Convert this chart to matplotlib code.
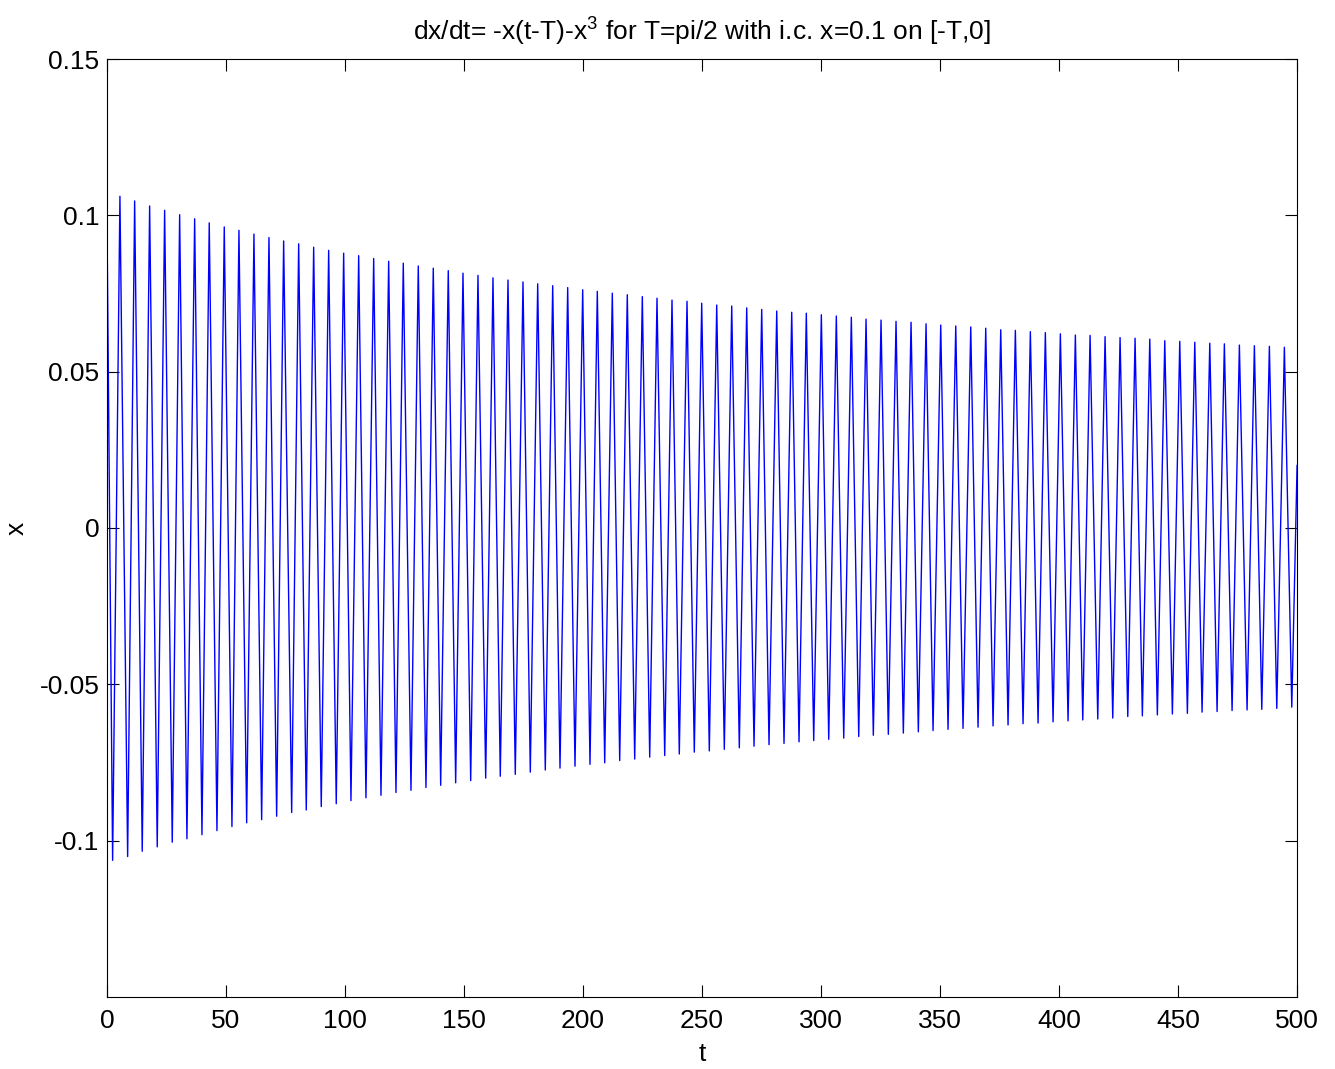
import numpy as np
import matplotlib
matplotlib.use("Agg")
import matplotlib.pyplot as plt

plt.rcParams['font.family'] = ['Liberation Sans', 'DejaVu Sans']
plt.rcParams['mathtext.default'] = 'regular'

# start / end of the trajectory
t_start, x_start = 0.0, 0.1
t_end, x_end = 500.0, 0.02

# local maxima
max_t = [5.46, 11.64, 17.94, 24.24, 30.55, 36.85, 42.98, 49.29, 55.46, 61.76,
         68.07, 74.24, 80.55, 86.85, 93.15, 99.45, 105.76, 112.06, 118.36,
         124.50, 130.80, 137.10, 143.40, 149.58, 155.88, 162.18, 168.49, 174.79,
         180.97, 187.27, 193.57, 199.87, 206.01, 212.31, 218.61, 224.92, 231.09,
         237.39, 243.70,
         249.87, 256.18, 262.48, 268.78, 275.08, 281.39, 287.69, 293.82, 300.13,
         306.43, 312.73, 318.91, 325.21, 331.51, 337.82, 344.12, 350.29, 356.60,
         362.90, 369.20,
         375.50, 381.64, 387.94, 394.24, 400.55, 406.85, 413.03, 419.33, 425.63,
         431.93, 438.11, 444.41, 450.71, 457.02, 463.32, 469.45, 475.76, 482.06,
         488.36, 494.66]
max_x = [0.1061, 0.1046, 0.1030, 0.1016, 0.1002, 0.0989, 0.0976, 0.0963, 0.0952,
         0.0940, 0.0929, 0.0918, 0.0909, 0.0898, 0.0888, 0.0879, 0.0871, 0.0862,
         0.0853,
         0.0847, 0.0838, 0.0831, 0.0823, 0.0815, 0.0808, 0.0800, 0.0793, 0.0787,
         0.0781, 0.0775, 0.0769, 0.0762, 0.0757, 0.0751, 0.0746, 0.0740, 0.0735,
         0.0729, 0.0725,
         0.0719, 0.0713, 0.0710, 0.0704, 0.0699, 0.0694, 0.0690, 0.0687, 0.0682,
         0.0678, 0.0674, 0.0668, 0.0665, 0.0661, 0.0658, 0.0653, 0.0649, 0.0646,
         0.0643, 0.0639,
         0.0634, 0.0632, 0.0628, 0.0625, 0.0621, 0.0617, 0.0616, 0.0612, 0.0609,
         0.0607, 0.0604, 0.0599, 0.0597, 0.0594, 0.0591, 0.0589, 0.0585, 0.0583,
         0.0581, 0.0578]

# local minima
min_t = [2.39, 8.70, 14.83, 21.13, 27.44, 33.61, 39.92, 46.22, 52.52, 58.70,
         65.00, 71.30, 77.61, 83.74, 90.04, 96.34, 102.52, 108.82, 115.13, 121.43,
         127.73, 134.03, 140.21, 146.51, 152.82, 159.12, 165.25, 171.55, 177.86,
         184.16, 190.34, 196.64, 202.94, 209.12, 215.42, 221.72, 228.03, 234.33,
         240.46, 246.76,
         253.07, 259.37, 265.67, 271.85, 278.15, 284.45, 290.76, 296.93, 303.24,
         309.54, 315.84, 321.97, 328.28, 334.58, 340.88, 347.06, 353.36, 359.66,
         365.97, 372.27,
         378.57, 384.87, 391.18, 397.48, 403.78, 409.96, 416.26, 422.56, 428.87,
         435.00, 441.30, 447.61, 453.91, 460.08, 466.39, 472.69, 478.99, 485.17,
         491.47, 497.77]
min_x = [-0.1063, -0.1051, -0.1034, -0.1020, -0.1005, -0.0994, -0.0981, -0.0968,
         -0.0955, -0.0943, -0.0933, -0.0922, -0.0910, -0.0902, -0.0891, -0.0882,
         -0.0872, -0.0863, -0.0855, -0.0846,
         -0.0839, -0.0830, -0.0823, -0.0815, -0.0808, -0.0800, -0.0794, -0.0788,
         -0.0781, -0.0774, -0.0768, -0.0762, -0.0756, -0.0751, -0.0744, -0.0739,
         -0.0733, -0.0728, -0.0723, -0.0717,
         -0.0713, -0.0708, -0.0703, -0.0698, -0.0693, -0.0689, -0.0684, -0.0680,
         -0.0676, -0.0672, -0.0667, -0.0663, -0.0660, -0.0656, -0.0652, -0.0648,
         -0.0644, -0.0641, -0.0637, -0.0633,
         -0.0630, -0.0626, -0.0624, -0.0620, -0.0617, -0.0614, -0.0611, -0.0608,
         -0.0603, -0.0601, -0.0598, -0.0595, -0.0593, -0.0589, -0.0587, -0.0584,
         -0.0582, -0.0580, -0.0577, -0.0573]

x_ticks = [0, 50, 100, 150, 200, 250, 300, 350, 400, 450, 500]
y_ticks = [-0.1, -0.05, 0, 0.05, 0.1, 0.15]
y_labels = ['-0.1', '-0.05', '0', '0.05', '0.1', '0.15']

# put the extrema in time order
t = np.concatenate([[t_start], max_t, min_t, [t_end]])
x = np.concatenate([[x_start], max_x, min_x, [x_end]])
order = np.argsort(t)
t, x = t[order], x[order]

fig = plt.figure(figsize=(13.35, 10.69), dpi=100)
ax = fig.add_axes([0.0801, 0.0674, 0.8915, 0.8774])
ax.plot(t, x, color='#0000ff', lw=1.0)

ax.set_xlim(0, 500)
ax.set_ylim(-0.15, 0.15)
ax.set_xticks(x_ticks)
ax.set_xticklabels([str(v) for v in x_ticks])
ax.set_yticks(y_ticks)
ax.set_yticklabels(y_labels)
ax.tick_params(direction='in', length=8.5, width=0.8, top=True, right=True,
               labelsize=19, pad=5.5)
ax.tick_params(axis='x', pad=9)
for s in ax.spines.values():
    s.set_linewidth(0.8)

ax.set_title('dx/dt= -x(t-T)-x$^3$ for T=pi/2 with i.c. x=0.1 on [-T,0]',
             fontsize=19, pad=13)
ax.set_xlabel('t', fontsize=19, labelpad=6)
ax.set_ylabel('x', fontsize=19, labelpad=8)

fig.savefig('out.png', dpi=100)
